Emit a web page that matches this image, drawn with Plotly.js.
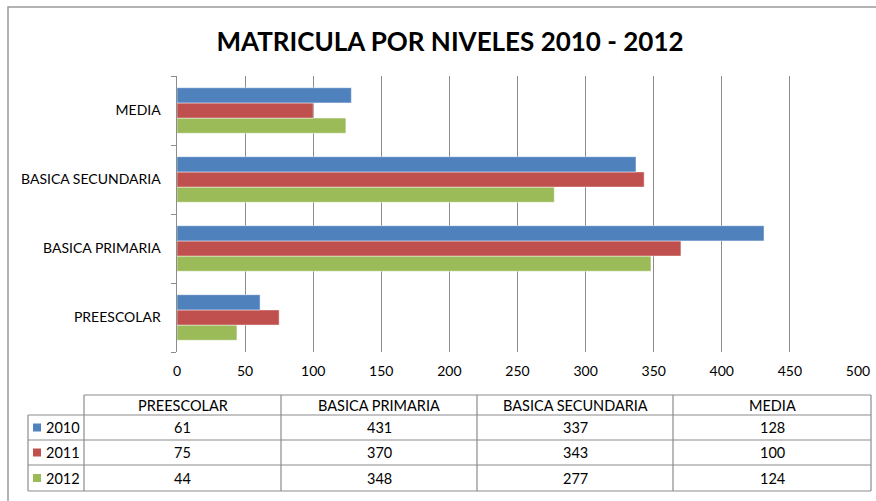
<!DOCTYPE html>
<html>
<head>
<meta charset="utf-8">
<script src="https://cdn.plot.ly/plotly-3.0.1.min.js"></script>
<style>html,body{margin:0;padding:0;background:#fff;}#chart{width:876px;height:501px;}</style>
</head>
<body>
<div id="chart"></div>
<script>
// ---- data ----
const categories = ["PREESCOLAR", "BASICA PRIMARIA", "BASICA SECUNDARIA", "MEDIA"];
const seriesNames = ["2010", "2011", "2012"];
const values2010 = [61, 431, 337, 128];
const values2011 = [75, 370, 343, 100];
const values2012 = [44, 348, 277, 124];
const xTicks = [0, 50, 100, 150, 200, 250, 300, 350, 400, 450, 500];
const chartTitle = "MATRICULA POR NIVELES 2010 - 2012";

// ---- style ----
const colors = ["#4F81BD", "#C0504D", "#9BBB59"];
const FONT = "Lato, 'Open Sans', sans-serif";
const W = 876, H = 501;
const PL = 177, PR = 858, PT = 76, PB = 352;
const px = p => (p - PL) / (PR - PL);
const py = p => (PB - p) / (PB - PT);

const allSeries = [values2010, values2011, values2012];
// Plotly draws the first trace at the bottom of each group, so add in reverse
const traces = [];
for (let i = allSeries.length - 1; i >= 0; i--) {
  traces.push({
    type: "bar", orientation: "h",
    name: seriesNames[i],
    y: categories, x: allSeries[i],
    marker: {color: colors[i], line: {color: "rgba(255,255,255,0.6)", width: 0.8}},
    hoverinfo: "x+name"
  });
}

const shapes = [];
const annotations = [];
const gridC = "#8c8c8c";

// outer chart border
shapes.push({type: "rect", xref: "paper", yref: "paper",
  x0: px(8), x1: px(W + 20), y0: py(H + 20), y1: py(7),
  line: {color: "#9a9a9a", width: 1.5}, fillcolor: "rgba(0,0,0,0)", layer: "below"});

// data table geometry
const colX = [84, 281, 477, 673, 871];
const labelX0 = 28;
const rowY = [395, 415, 440, 465, 491];
const tl = {color: gridC, width: 1.2};
function hline(x0, x1, y) {
  shapes.push({type: "line", xref: "paper", yref: "paper", x0: px(x0), x1: px(x1), y0: py(y), y1: py(y), line: tl});
}
function vline(x, y0, y1) {
  shapes.push({type: "line", xref: "paper", yref: "paper", x0: px(x), x1: px(x), y0: py(y0), y1: py(y1), line: tl});
}
hline(colX[0], colX[4], rowY[0]);
for (let r = 1; r < rowY.length; r++) hline(labelX0, colX[4], rowY[r]);
vline(labelX0, rowY[1], rowY[4]);
vline(colX[0], rowY[0], rowY[4]);
for (let c = 1; c < colX.length; c++) vline(colX[c], rowY[0], rowY[4]);

const tf = {family: FONT, size: 14.5, color: "#000"};
// header
categories.forEach((cat, c) => {
  annotations.push({xref: "paper", yref: "paper", x: px((colX[c] + colX[c + 1]) / 2), y: py((rowY[0] + rowY[1]) / 2),
    text: cat, showarrow: false, xanchor: "center", yanchor: "middle", font: tf});
});
// rows
allSeries.forEach((vals, r) => {
  const yc = (rowY[r + 1] + rowY[r + 2]) / 2;
  shapes.push({type: "rect", xref: "paper", yref: "paper",
    x0: px(33), x1: px(41), y0: py(yc + 4), y1: py(yc - 4), line: {width: 0}, fillcolor: colors[r]});
  annotations.push({xref: "paper", yref: "paper", x: px(44), y: py(yc),
    text: seriesNames[r], showarrow: false, xanchor: "left", yanchor: "middle", font: tf});
  vals.forEach((v, c) => {
    annotations.push({xref: "paper", yref: "paper", x: px((colX[c] + colX[c + 1]) / 2), y: py(yc),
      text: String(v), showarrow: false, xanchor: "center", yanchor: "middle", font: tf});
  });
});

const layout = {
  width: W, height: H,
  margin: {l: PL, r: W - PR, t: PT, b: H - PB, pad: 0},
  paper_bgcolor: "#fff", plot_bgcolor: "#fff",
  showlegend: false,
  barmode: "group", bargap: 0.34, bargroupgap: 0,
  title: {text: "<b>" + chartTitle + "</b>", font: {family: FONT, size: 26, color: "#000"},
    xref: "paper", x: px(450), xanchor: "center", yref: "container", y: 1 - 42 / H, yanchor: "middle"},
  xaxis: {range: [0, 500], tickvals: xTicks, ticktext: xTicks.map(String),
    showgrid: true, gridcolor: gridC, gridwidth: 1, zeroline: false, showline: false,
    ticks: "outside", ticklen: 6, tickcolor: "rgba(0,0,0,0)",
    tickfont: {family: FONT, size: 14, color: "#000"}, fixedrange: true},
  yaxis: {type: "category", categoryorder: "array", categoryarray: categories,
    showline: true, linecolor: gridC, linewidth: 1.5, showgrid: false, zeroline: false,
    ticks: "outside", tickson: "boundaries", ticklen: 5, tickcolor: gridC,
    tickfont: {family: FONT, size: 14, color: "#000"}, ticklabelstandoff: 12, fixedrange: true},
  shapes: shapes,
  annotations: annotations
};

Plotly.newPlot("chart", traces, layout, {displayModeBar: false, staticPlot: true});
</script>
</body>
</html>
